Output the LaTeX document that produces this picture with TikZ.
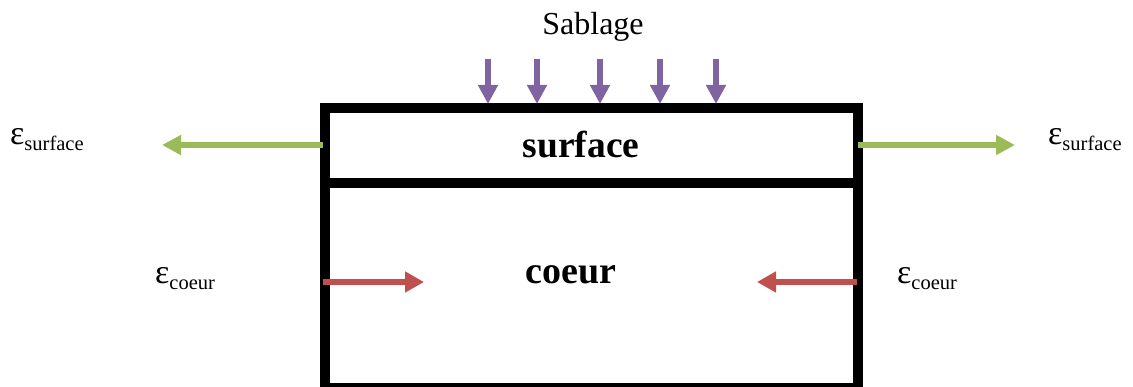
\documentclass[tikz,border=0pt]{standalone}
\usepackage{fontspec}
\setmainfont{Liberation Serif}
\usetikzlibrary{arrows.meta}
\definecolor{sandpurple}{HTML}{8064A2}
\definecolor{strainGreen}{HTML}{9BBB59}
\definecolor{strainRed}{HTML}{C0504D}
\newcommand{\epslabel}[1]{{\fontsize{34}{36}\selectfont ε}{\fontsize{20.5}{22}\selectfont\raisebox{-6pt}{#1}}}
\tikzset{
  wall/.style={line width=10pt, line cap=rect},
  shot/.style={sandpurple, line width=6pt, -{Triangle[length=19pt,width=19pt]}},
  pull/.style={strainGreen, line width=6.5pt, -{Triangle[length=19pt,width=19pt]}},
  push/.style={strainRed, line width=6pt, -{Triangle[length=19pt,width=20pt]}},
  lbl/.style={inner sep=0pt, anchor=base west},
}
\begin{document}
\begin{tikzpicture}[x=1pt, y=-1pt]
  \useasboundingbox (0,0) rectangle (1133,387);
  % specimen: surface layer on top of the core
  \coordinate (tl) at (325,108);
  \coordinate (br) at (858,388);
  \draw[wall] (tl) rectangle (br);
  \draw[wall] (325,183) coordinate (sepL) -- (858,183) coordinate (sepR);
  \node[inner sep=0pt, anchor=base] (surf) at (581,158) {\fontsize{37.5}{40}\selectfont\bfseries surface};
  \node[inner sep=0pt, anchor=base] (core) at (571,284) {\fontsize{38}{40}\selectfont\bfseries coeur};
  % shot peening
  \node[inner sep=0pt, anchor=base] (sab) at (593,35) {\fontsize{32}{34}\selectfont Sablage};
  \foreach \x [count=\i] in {488,537,600,660,716} {
    \coordinate (s\i) at (\x,59);
    \coordinate (t\i) at (\x,104);
    \draw[shot] (s\i) -- (t\i);
  }
  % tension in the surface layer
  \coordinate (gl0) at (323,145); \coordinate (gl1) at (162,145);
  \coordinate (gr0) at (858,145); \coordinate (gr1) at (1015,145);
  \draw[pull] (gl0) -- (gl1);
  \draw[pull] (gr0) -- (gr1);
  \node[lbl] (esl) at (10,145) {\epslabel{surface}};
  \node[lbl] (esr) at (1048,145) {\epslabel{surface}};
  % compression in the core
  \coordinate (rl0) at (323,282); \coordinate (rl1) at (424,282);
  \coordinate (rr0) at (857,282); \coordinate (rr1) at (757,282);
  \draw[push] (rl0) -- (rl1);
  \draw[push] (rr0) -- (rr1);
  \node[lbl] (ecl) at (155,284) {\epslabel{coeur}};
  \node[lbl] (ecr) at (897,284) {\epslabel{coeur}};
\end{tikzpicture}
\end{document}
